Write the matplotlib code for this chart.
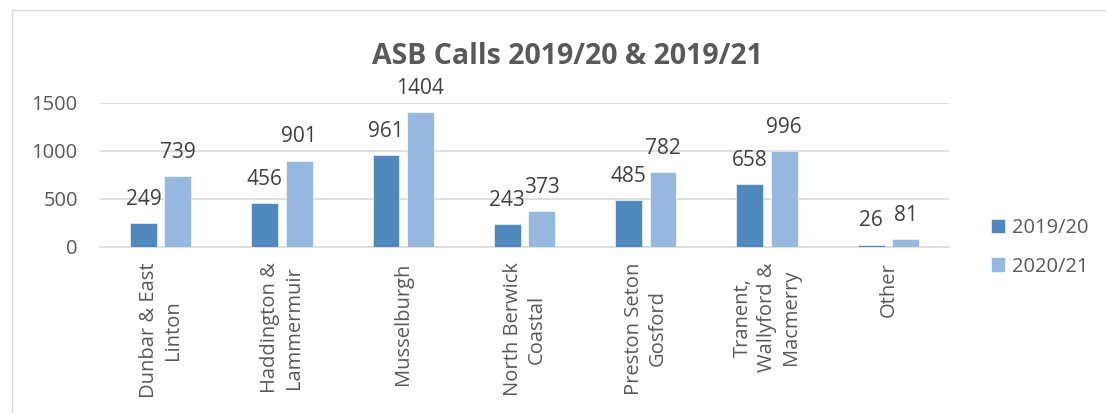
"""ASB calls per area, 2019/20 vs 2020/21 -> out.png"""
import matplotlib
matplotlib.use("Agg")
import matplotlib.pyplot as plt
from matplotlib.patches import Rectangle
import numpy as np

AREAS = ["Dunbar & East\nLinton", "Haddington &\nLammermuir", "Musselburgh",
         "North Berwick\nCoastal", "Preston Seton\nGosford",
         "Tranent,\nWallyford &\nMacmerry", "Other"]
CALLS_1920 = [249, 456, 961, 243, 485, 658, 26]
CALLS_2021 = [739, 901, 1404, 373, 782, 996, 81]
SERIES = ["2019/20", "2020/21"]
YTICKS = [0, 500, 1000, 1500]

DARK = "#4f88bc"
LIGHT = "#97b9e0"
GRID = "#d9d9d9"
TXT = "#595959"
LBL = "#404040"

plt.rcParams["font.family"] = ["Open Sans", "DejaVu Sans"]

W, H = 1106, 413
fig = plt.figure(figsize=(W / 100, H / 100), dpi=100)
# axes placed in pixel terms of the reference
ax = fig.add_axes([100 / W, 1 - 247 / H, (949 - 100) / W, (247 - 103) / H])

x = np.arange(len(AREAS))
bw, off = 0.222, 0.142
b1 = ax.bar(x - off, CALLS_1920, bw, color=DARK, edgecolor="white", lw=0.4,
            label=SERIES[0], zorder=3)
b2 = ax.bar(x + off, CALLS_2021, bw, color=LIGHT, edgecolor="white", lw=0.4,
            label=SERIES[1], zorder=3)
for bars, vals in ((b1, CALLS_1920), (b2, CALLS_2021)):
    for r, v in zip(bars, vals):
        ax.annotate(str(v), (r.get_x() + r.get_width() / 2, v), xytext=(0, 13),
                    textcoords="offset points", ha="center", va="baseline",
                    fontsize=15, color=LBL, annotation_clip=False)

ax.set_xlim(-0.5, len(AREAS) - 0.5)
ax.set_ylim(0, 1500)
ax.set_yticks(YTICKS)
ax.set_xticks(x)
ax.set_xticklabels(AREAS, rotation=90, multialignment="center", linespacing=1.25)
ax.tick_params(axis="both", length=0, labelsize=14.5, labelcolor=TXT)
ax.tick_params(axis="y", pad=16)
ax.tick_params(axis="x", pad=11)
ax.grid(axis="y", color=GRID, lw=1.2, zorder=0)
for s in ("top", "right", "left"):
    ax.spines[s].set_visible(False)
ax.spines["bottom"].set_color(GRID)
ax.spines["bottom"].set_linewidth(1.2)

fig.text(567.5 / W, 1 - 56 / H, "ASB Calls 2019/20 & 2019/21", ha="center",
         va="center", fontsize=20.5, fontweight="bold", color=TXT)

ax.legend(loc="center left", bbox_to_anchor=(991 / W, 1 - 247.5 / H),
          bbox_transform=fig.transFigure, frameon=False, fontsize=14.5,
          handlelength=0.7, handleheight=0.7, handletextpad=0.35,
          labelspacing=0.9, borderpad=0, borderaxespad=0, labelcolor=TXT)

# chart-area border, cut by the image edges like the reference
fig.add_artist(Rectangle((12 / W, -0.1), 1.2, 1.1 - 10 / H, transform=fig.transFigure,
                         fill=False, ec=GRID, lw=1))

fig.savefig("out.png", dpi=100, facecolor="white")
